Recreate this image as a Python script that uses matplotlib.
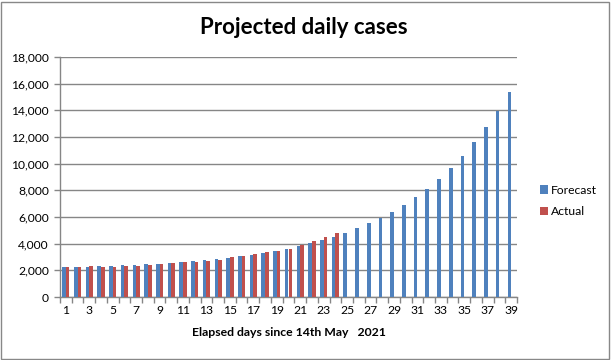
import matplotlib
matplotlib.use("Agg")
import matplotlib.pyplot as plt
from matplotlib.patches import Rectangle
from matplotlib.ticker import FuncFormatter, FixedLocator
import numpy as np

days = list(range(1, 40))
forecast = [2250, 2230, 2280, 2325, 2325, 2400, 2400, 2475, 2475, 2550,
            2600, 2700, 2755, 2830, 2960, 3060, 3160, 3335, 3435, 3590,
            3810, 4015, 4265, 4490, 4820, 5170, 5550, 5930, 6390, 6910,
            7535, 8115, 8870, 9700, 10600, 11610, 12720, 13930, 15390]
actual = [2230, 2250, 2325, 2280, 2280, 2325, 2350, 2400, 2450, 2530,
          2600, 2630, 2700, 2800, 3000, 3060, 3230, 3385, 3435, 3590,
          3890, 4215, 4490, 4820]
x_tick_labels = [str(d) for d in days if d % 2 == 1]
y_ticks = list(range(0, 18001, 2000))

blue = "#4F81BD"
red = "#C0504D"
grid_c = "#868686"
font = "Lato"

fig = plt.figure(figsize=(6.11, 3.6), dpi=100)
W, H = 611, 360
ax = fig.add_axes([60 / W, 1 - 297 / H, (517 - 60) / W, (297 - 57) / H])

bw = 0.31
idx = np.arange(len(days))
ax.bar(idx - bw / 2, forecast, width=bw, color=blue, label="Forecast", zorder=3)
ax.bar(np.arange(len(actual)) + bw / 2, actual, width=bw, color=red, label="Actual", zorder=3)

ax.set_xlim(-0.5, len(days) - 0.5)
ax.set_ylim(0, 18000)
ax.set_yticks(y_ticks)
ax.yaxis.set_major_formatter(FuncFormatter(lambda v, p: f"{int(v):,}"))
ax.grid(axis="y", color=grid_c, linewidth=1, zorder=0)

# x: labels on odd days, tick marks on category boundaries
ax.set_xticks([i for i in idx if days[i] % 2 == 1])
ax.set_xticklabels(x_tick_labels)
ax.tick_params(axis="x", which="major", length=0, pad=6, labelsize=8.7)
ax.xaxis.set_minor_locator(FixedLocator(np.arange(-0.5, len(days), 1.0)))
ax.tick_params(axis="x", which="minor", length=4, color=grid_c, width=1, direction="out")
ax.tick_params(axis="y", length=4, color=grid_c, width=1, labelsize=8.7, pad=4)

for s in ["top", "right"]:
    ax.spines[s].set_visible(False)
for s in ["left", "bottom"]:
    ax.spines[s].set_color(grid_c)
    ax.spines[s].set_linewidth(1)

for lab in ax.get_xticklabels() + ax.get_yticklabels():
    lab.set_fontfamily(font)

fig.text(304 / W, 1 - 27 / H, "Projected daily cases", ha="center", va="center",
         fontsize=16, fontweight="bold", fontfamily=font)
ax.set_xlabel("Elapsed days since 14th May   2021", fontsize=8.8, fontweight="bold",
              fontfamily=font, labelpad=8)

leg = fig.legend(loc="center left", bbox_to_anchor=(529 / W, 1 - 201 / H), frameon=False,
                 handlelength=0.7, handleheight=0.7, handletextpad=0.2, labelspacing=0.9,
                 prop={"family": font, "size": 8.7})

fig.patches.append(Rectangle((1 / W, 1 / H), (W - 3) / W, (H - 3) / H,
                             transform=fig.transFigure, fill=False,
                             edgecolor="#888888", linewidth=1))

fig.savefig("out.png", dpi=100)
